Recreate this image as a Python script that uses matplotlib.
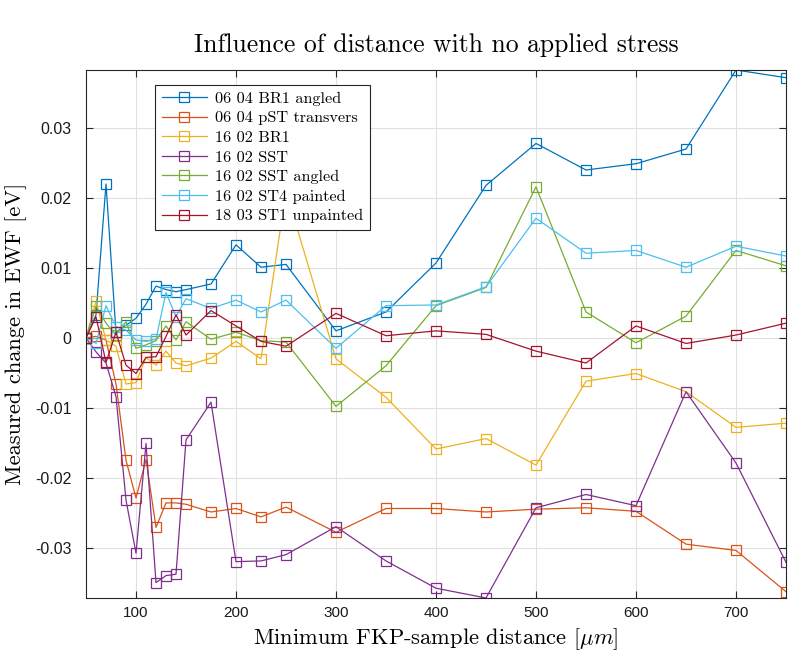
import numpy as np
import matplotlib
matplotlib.use("Agg")
import matplotlib.pyplot as plt

plt.rcParams['mathtext.fontset'] = 'cm'
plt.rcParams['axes.unicode_minus'] = False

# minimum probe-sample distance in micrometres
distances = [50, 60, 70, 80, 90, 100, 110, 120, 130, 140, 150, 175, 200, 225, 250,
             300, 350, 400, 450, 500, 550, 600, 650, 700, 750]

br1_angled_0604 = [0, 0.0033, 0.022, 0.0008, 0.0018, 0.0028, 0.0048, 0.0074, 0.0069, 0.0066,
                   0.0069, 0.0077, 0.0133, 0.0101, 0.0105, 0.001, 0.0037, 0.0107, 0.0218,
                   0.0278, 0.024, 0.0249, 0.027, 0.0383, 0.0372]
pst_transvers_0604 = [0, 0.0002, -0.0003, -0.0066, -0.0175, -0.0229, -0.0174, -0.0271, -0.0236,
                      -0.0236, -0.0238, -0.0249, -0.0244, -0.0256, -0.0242, -0.0278, -0.0244,
                      -0.0244, -0.0249, -0.0245, -0.0243, -0.0248, -0.0295, -0.0304, -0.0363]
br1_1602 = [0, 0.0052, -0.0003, -0.0012, -0.0066, -0.0064, -0.0028, -0.0039, -0.0019, -0.0036,
            -0.004, -0.0029, -0.0005, -0.003, 0.021, -0.003, -0.0085, -0.0159, -0.0144,
            -0.0182, -0.0062, -0.0051, -0.0077, -0.0128, -0.0122]
sst_1602 = [0, -0.002, -0.0036, -0.0084, -0.0232, -0.0308, -0.0151, -0.035, -0.034, -0.0338,
            -0.0146, -0.0092, -0.032, -0.0319, -0.031, -0.027, -0.0319, -0.0358, -0.0372,
            -0.0243, -0.0224, -0.024, -0.0077, -0.0179, -0.0321]
sst_angled_1602 = [0, 0.0045, 0.0021, 0.0004, 0.0023, -0.0015, -0.001, -0.0004, 0.0017, -0.0003,
                   0.0023, -0.0002, 0.0008, -0.0004, -0.0006, -0.0098, -0.004, 0.0046, 0.0072,
                   0.0216, 0.0037, -0.0007, 0.0031, 0.0125, 0.0103]
st4_painted_1602 = [0, -0.0008, 0.0046, 0.0016, 0.0011, -0.0003, -0.0005, -0.0002, 0.0065, 0.003,
                    0.0056, 0.0042, 0.0054, 0.0037, 0.0054, -0.0015, 0.0046, 0.0047, 0.0073,
                    0.0171, 0.0121, 0.0125, 0.0101, 0.0131, 0.0117]
st1_unpainted_1803 = [0, 0.003, -0.0035, 0.0008, -0.0039, -0.0051, -0.0028, -0.0027, 0.0002,
                      0.0033, 0.0004, 0.0039, 0.0017, -0.0005, -0.0012, 0.0035, 0.0003, 0.001,
                      0.0005, -0.0019, -0.0036, 0.0017, -0.0008, 0.0004, 0.0021]

labels = ["06 04 BR1 angled", "06 04 pST transvers", "16 02 BR1", "16 02 SST",
          "16 02 SST angled", "16 02 ST4 painted", "18 03 ST1 unpainted"]

x_ticks = [100, 200, 300, 400, 500, 600, 700]
y_ticks = [-0.03, -0.02, -0.01, 0, 0.01, 0.02, 0.03]
y_tick_labels = ["-0.03", "-0.02", "-0.01", "0", "0.01", "0.02", "0.03"]

# matlab default line colours
colors = [(0, 0.447, 0.741), (0.85, 0.325, 0.098), (0.929, 0.694, 0.125),
          (0.494, 0.184, 0.556), (0.466, 0.674, 0.188), (0.301, 0.745, 0.933),
          (0.635, 0.078, 0.184)]

series = [br1_angled_0604, pst_transvers_0604, br1_1602, sst_1602,
          sst_angled_1602, st4_painted_1602, st1_unpainted_1803]

fig = plt.figure(figsize=(7.89, 6.57), dpi=100)
ax = fig.add_axes([86 / 789, 1 - 598 / 657, 700 / 789, 528 / 657])

for vals, lab, c in zip(series, labels, colors):
    ax.plot(distances, vals, '-s', color=c, lw=0.9, markersize=7.5,
            markerfacecolor='none', markeredgewidth=0.9, label=lab)

# tight limits like matlab "axis tight"
all_vals = np.concatenate([np.array(s) for s in series])
ax.set_xlim(min(distances), max(distances))
ax.set_ylim(all_vals.min(), all_vals.max())

ax.set_xticks(x_ticks)
ax.set_xticklabels([str(t) for t in x_ticks], fontfamily='Liberation Sans', fontsize=11)
ax.set_yticks(y_ticks)
ax.set_yticklabels(y_tick_labels, fontfamily='Liberation Sans', fontsize=11.5)
ax.tick_params(direction='in', length=5, width=0.8, top=True, right=True,
               colors='0.15', labelcolor='0.1')
ax.tick_params(axis='x', pad=6)
ax.tick_params(axis='y', pad=10.5)
ax.grid(True, color='0.88', lw=0.8)
ax.set_axisbelow(True)
for sp in ax.spines.values():
    sp.set_color('0.15')
    sp.set_linewidth(0.8)

ax.set_xlabel(r'Minimum FKP-sample distance [$\mu m$]', fontfamily='cmr10',
              fontsize=16.2, labelpad=4)
ax.set_ylabel('Measured change in EWF [eV]', fontfamily='cmr10', fontsize=16.2, labelpad=6)
fig.text(436 / 789, 1 - 45 / 657, 'Influence of distance with no applied stress',
         fontfamily='cmr10', fontsize=18.5, ha='center', va='center')

leg = ax.legend(loc='upper left', bbox_to_anchor=(0.0986, 0.9716), borderaxespad=0,
                fancybox=False, edgecolor='0.15', framealpha=1,
                prop={'family': 'cmr10', 'size': 11.7}, labelspacing=0.32,
                handlelength=2.8, borderpad=0.4, handletextpad=0.5)
leg.get_frame().set_linewidth(0.8)

fig.savefig('out.png', dpi=100)
